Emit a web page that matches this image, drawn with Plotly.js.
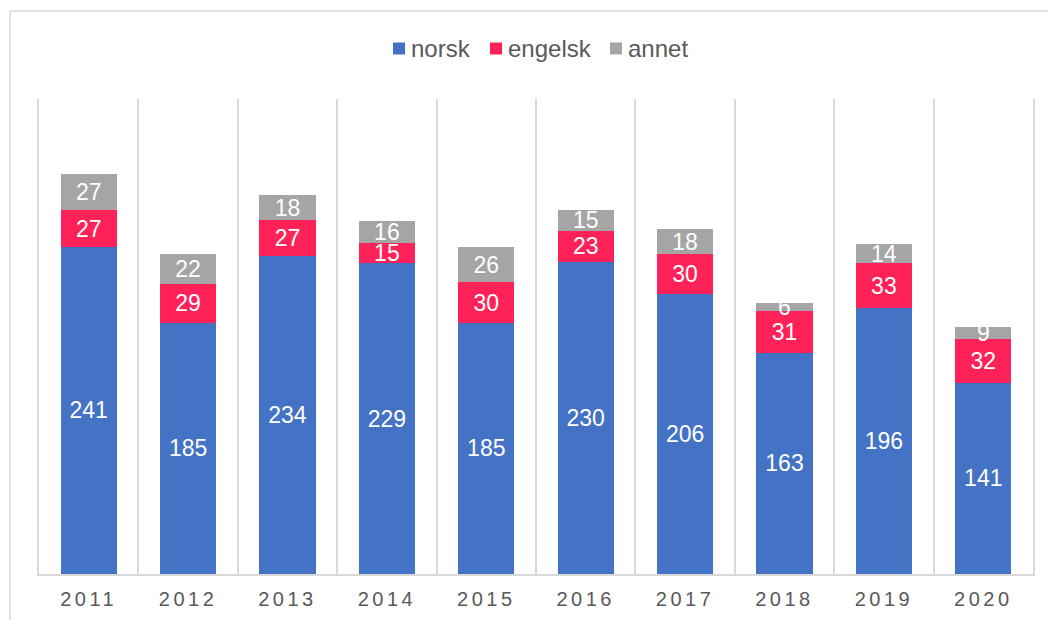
<!DOCTYPE html>
<html>
<head>
<meta charset="utf-8">
<script src="https://cdn.plot.ly/plotly-3.0.1.min.js"></script>
<style>
html, body { margin: 0; padding: 0; background: #ffffff; }
#chart { width: 1048px; height: 620px; }
.xtick text { letter-spacing: 3.5px; }
</style>
</head>
<body>
<div id="chart"></div>
<script>
const years = ["2011", "2012", "2013", "2014", "2015", "2016", "2017", "2018", "2019", "2020"];
const norsk = [241, 185, 234, 229, 185, 230, 206, 163, 196, 141];
const engelsk = [27, 29, 27, 15, 30, 23, 30, 31, 33, 32];
const annet = [27, 22, 18, 16, 26, 15, 18, 6, 14, 9];
const seriesNames = ["norsk", "engelsk", "annet"];
const seriesColors = ["#4472C4", "#FF2259", "#A5A5A5"];

const W = 1048, H = 620;
const L = 39, R = 15, T = 99, B = 46;
const pw = W - L - R, ph = H - T - B;
const px = v => (v - L) / pw;
const py = v => 1 + (T - v) / ph;

function series(name, values, color) {
  return {
    type: "bar",
    name: name,
    x: years,
    y: values,
    text: values.map(String),
    textposition: "inside",
    insidetextanchor: "middle",
    textangle: 0,
    constraintext: "none",
    textfont: { family: "Liberation Sans, Arial, sans-serif", size: 23, color: "#ffffff" },
    marker: { color: color, line: { width: 0 } },
    hoverinfo: "skip",
    showlegend: false
  };
}

const allValues = [norsk, engelsk, annet];
const data = seriesNames.map((n, i) => series(n, allValues[i], seriesColors[i]));

// manual legend (pixel positions of the items)
const legSquareX = [393, 490, 610];
const shapes = [
  {
    type: "rect", xref: "paper", yref: "paper",
    x0: px(10), x1: px(W + 5), y0: py(H + 5), y1: py(11),
    line: { color: "#D9D9D9", width: 1.5 },
    fillcolor: "rgba(0,0,0,0)", layer: "below"
  }
];
const annotations = [];
seriesNames.forEach((n, i) => {
  shapes.push({
    type: "rect", xref: "paper", yref: "paper",
    x0: px(legSquareX[i]), x1: px(legSquareX[i] + 12),
    y0: py(54.5), y1: py(42.5),
    line: { width: 0 }, fillcolor: seriesColors[i]
  });
  annotations.push({
    xref: "paper", yref: "paper",
    x: px(legSquareX[i] + 16), y: py(48.5),
    xanchor: "left", yanchor: "middle",
    text: n, showarrow: false,
    font: { family: "Liberation Sans, Arial, sans-serif", size: 24, color: "#595959" }
  });
});

const layout = {
  width: W,
  height: H,
  margin: { l: L, r: R, t: T, b: B, pad: 0 },
  barmode: "stack",
  bargap: 0.435,
  paper_bgcolor: "#ffffff",
  plot_bgcolor: "#ffffff",
  font: { family: "Liberation Sans, Arial, sans-serif", color: "#595959" },
  showlegend: false,
  xaxis: {
    type: "category",
    tickson: "boundaries",
    showgrid: true,
    gridcolor: "#D9D9D9",
    gridwidth: 2,
    ticks: "",
    ticklabelstandoff: 6,
    showline: true,
    linecolor: "#D9D9D9",
    linewidth: 2,
    mirror: false,
    tickfont: { size: 20, color: "#595959" },
    fixedrange: true
  },
  yaxis: {
    range: [0, 350],
    showgrid: false,
    zeroline: false,
    showticklabels: false,
    ticks: "",
    showline: true,
    linecolor: "#D9D9D9",
    linewidth: 2,
    mirror: true,
    fixedrange: true
  },
  shapes: shapes,
  annotations: annotations
};

Plotly.newPlot("chart", data, layout, { displayModeBar: false, staticPlot: true });
</script>
</body>
</html>
